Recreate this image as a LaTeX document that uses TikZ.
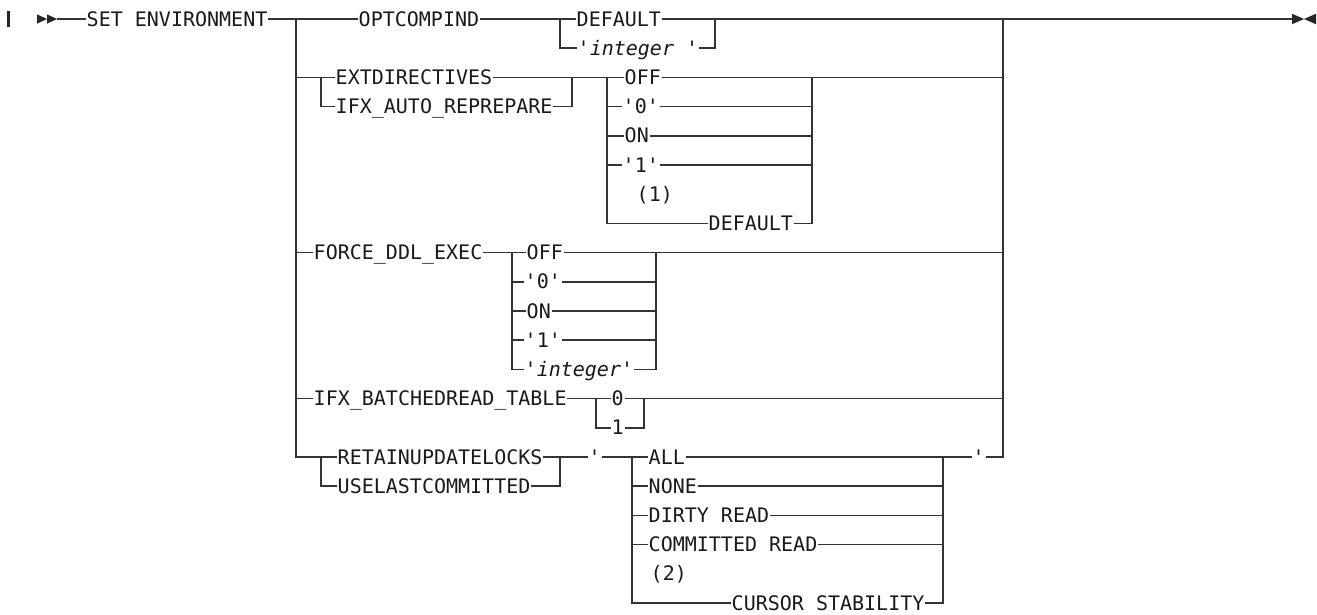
\documentclass[tikz,border=0pt]{standalone}
\usepackage{fontspec}
\setmonofont{DejaVu Sans Mono}
\begin{document}
\begin{tikzpicture}[x=0.75pt,y=-21.9pt,line width=1.1pt,
  kw/.style={inner xsep=0pt,inner ysep=0pt,text height=10.5pt,text depth=0pt,anchor=west,
    text=black!90,font=\fontsize{15}{18}\selectfont\ttfamily},
  var/.style={kw,font=\fontsize{15}{18}\selectfont\ttfamily\itshape},
  rail/.style={draw=black!80}]
\useasboundingbox (0,-0.6507) rectangle (1317,20.3767);
% rails (x in px, y in rows)
\coordinate (lead) at (57,0);   \coordinate (tail) at (1292,0);
\coordinate (lr) at (296,0);    \coordinate (rr) at (1003,0);
\coordinate (a1) at (560,0);    \coordinate (a2) at (715,0);
\coordinate (b1) at (321,0);    \coordinate (b2) at (572,0);
\coordinate (b3) at (607,0);    \coordinate (b4) at (812,0);
\coordinate (c1) at (512,0);    \coordinate (c2) at (656,0);
\coordinate (d1) at (596,0);    \coordinate (d2) at (644,0);
\coordinate (e1) at (321,0);    \coordinate (e2) at (560,0);
\coordinate (e3) at (632,0);    \coordinate (e4) at (943,0);
% keywords
\node[kw] (setenv) at (86,0) {SET ENVIRONMENT};
\node[kw] (optc) at (358,0) {OPTCOMPIND};
\node[kw] (dflt) at (576,0) {DEFAULT};
\node[var] (intg) at (577,1) {'integer '};
\node[kw] (ext) at (335,2) {EXTDIRECTIVES};
\node[kw] (auto) at (335,3) {IFX\_AUTO\_REPREPARE};
\node[kw] (eoff) at (624,2) {OFF};
\node[kw] (ezero) at (622,3) {'0'};
\node[kw] (eon) at (624,4) {ON};
\node[kw] (eone) at (622,5) {'1'};
\node[kw] (note1) at (636,6) {(1)};
\node[kw] (edflt) at (708,7) {DEFAULT};
\node[kw] (force) at (313,8) {FORCE\_DDL\_EXEC};
\node[kw] (foff) at (526,8) {OFF};
\node[kw] (fzero) at (524,9) {'0'};
\node[kw] (fon) at (526,10) {ON};
\node[kw] (fone) at (524,11) {'1'};
\node[var] (fint) at (524,12) {'integer'};
\node[kw] (batch) at (313,13) {IFX\_BATCHEDREAD\_TABLE};
\node[kw] (bzero) at (611,13) {0};
\node[kw] (bone) at (611,14) {1};
\node[kw] (retain) at (337,15) {RETAINUPDATELOCKS};
\node[kw] (uselast) at (337,16) {USELASTCOMMITTED};
\node[kw] (qopen) at (588,15) {'};
\node[kw] (all) at (648,15) {ALL};
\node[kw] (none) at (648,16) {NONE};
\node[kw] (dirty) at (648,17) {DIRTY READ};
\node[kw] (comm) at (648,18) {COMMITTED READ};
\node[kw] (note2) at (650,19) {(2)};
\node[kw] (cursor) at (731,20) {CURSOR STABILITY};
\node[kw] (qclose) at (972,15) {'};
% start and end marks
\fill[black!85] (7,-0.274) rectangle (10,0.274);
\fill[black!85] (37,-0.16) -- (47,0) -- (37,0.16) -- cycle (47,-0.16) -- (57,0) -- (47,0.16) -- cycle;
\fill[black!85] (tail) ++(0,-0.18) -- ++(12,0.18) -- ++(-12,0.18) -- cycle;
\fill[black!85] (1316,-0.18) -- (1304,0) -- (1316,0.18) -- cycle;
% main line
\draw[rail] (lead) -- (setenv.west) (setenv.east) -- (optc.west) (optc.east) -- (dflt.west) (dflt.east) -- (tail);
\draw[line width=2pt,black!80] (1010,0) -- (1032,0);
\draw[rail] (optc.east -| a1) |- (intg.west) (intg.east) -| (dflt.east -| a2);
\draw[rail] (lr) |- (retain.west);
% EXTDIRECTIVES
\draw[rail] (lr |- ext.west) -- (ext.west) (ext.west -| b1) |- (auto.west);
\draw[rail] (ext.east) -- (eoff.west) (auto.east) -| (ext.east -| b2);
\draw[rail] (ext.east -| b3) |- (edflt.west) (eoff.east) -- (eoff.east -| rr);
\foreach \n in {ezero,eon,eone} \draw[rail] (\n.west -| b3) -- (\n.west);
\foreach \n in {ezero,eon,eone,edflt} \draw[rail] (\n.east) -| (eoff.east -| b4);
% FORCE_DDL_EXEC
\draw[rail] (lr |- force.west) -- (force.west) (force.east) -- (foff.west);
\draw[rail] (force.east -| c1) |- (fint.west) (foff.east) -- (foff.east -| rr);
\foreach \n in {fzero,fon,fone} \draw[rail] (\n.west -| c1) -- (\n.west);
\foreach \n in {fzero,fon,fone,fint} \draw[rail] (\n.east) -| (foff.east -| c2);
% IFX_BATCHEDREAD_TABLE
\draw[rail] (lr |- batch.west) -- (batch.west) (batch.east) -- (bzero.west);
\draw[rail] (batch.east -| d1) |- (bone.west) (bone.east) -| (bzero.east -| d2);
\draw[rail] (bzero.east) -- (bzero.east -| rr);
% RETAINUPDATELOCKS / USELASTCOMMITTED
\draw[rail] (retain.west -| e1) |- (uselast.west) (uselast.east) -| (retain.east -| e2);
\draw[rail] (retain.east) -- (qopen.west) (qopen.east) -- (all.west);
\draw[rail] (qopen.east -| e3) |- (cursor.west);
\foreach \n in {none,dirty,comm} \draw[rail] (\n.west -| e3) -- (\n.west);
\foreach \n in {none,dirty,comm,cursor} \draw[rail] (\n.east) -| (all.east -| e4);
\draw[rail] (all.east) -- (qclose.west) (qclose.east) -| (rr);
\end{tikzpicture}
\end{document}
